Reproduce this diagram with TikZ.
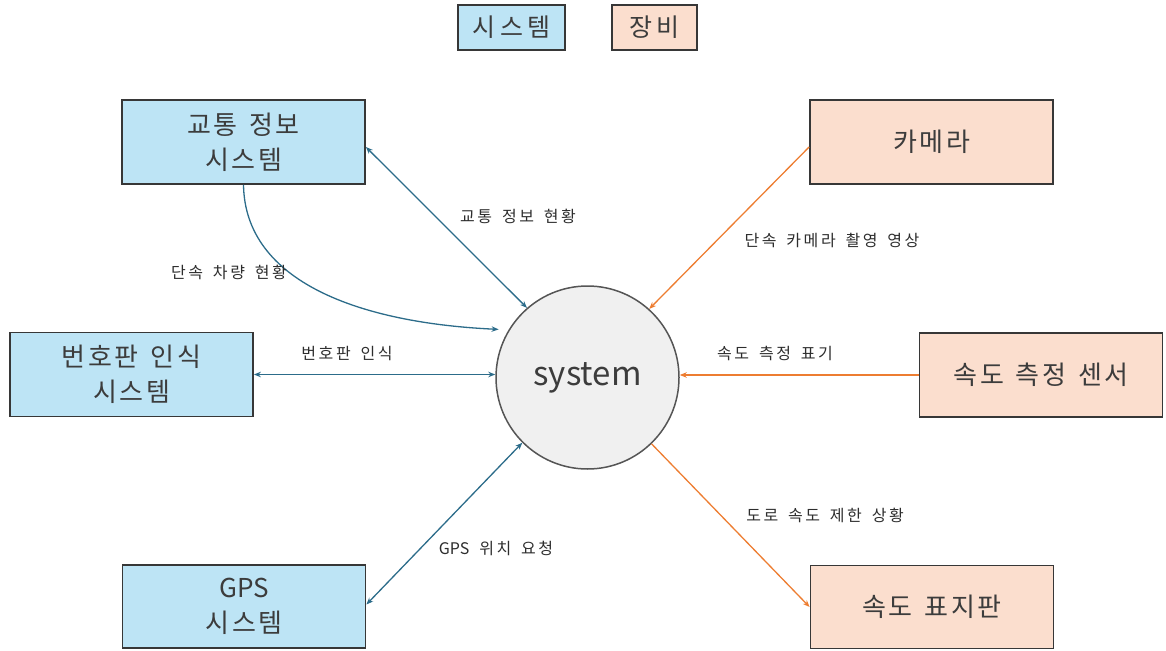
\documentclass[tikz,border=0pt]{standalone}
\usepackage{fontspec}
\setmainfont[LetterSpace=10, WordSpace=1.4]{Noto Sans CJK KR}
\newfontfamily\lblfont[LetterSpace=16, WordSpace=1.6]{Noto Sans CJK KR}
\newfontfamily\legfont[LetterSpace=18]{Noto Sans CJK KR}
\newfontfamily\plainfont{Noto Sans CJK KR}
\usetikzlibrary{arrows.meta}
\definecolor{sysfill}{RGB}{189,228,245}
\definecolor{eqfill}{RGB}{251,222,206}
\definecolor{boxline}{RGB}{55,55,55}
\definecolor{txt}{RGB}{60,60,60}
\definecolor{lbltxt}{RGB}{45,45,45}
\definecolor{teal}{RGB}{44,108,138}
\definecolor{orng}{RGB}{237,125,49}
\definecolor{cfill}{RGB}{240,240,240}
\definecolor{cline}{RGB}{85,85,85}
\tikzset{
  sysbox/.style={draw=boxline, line width=1.8pt, fill=sysfill, text=txt, align=center,
    minimum width=243pt, minimum height=84pt, inner sep=0pt,
    font=\fontsize{26}{35}\selectfont},
  eqbox/.style={sysbox, fill=eqfill},
  legbox/.style={draw=boxline, line width=1.8pt, text=txt, minimum height=45pt, inner sep=0pt,
    font=\legfont\fontsize{25}{28}\selectfont},
  flowlbl/.style={text=lbltxt, inner sep=0pt, font=\lblfont\fontsize{16}{18}\selectfont},
  tflow/.style={draw=teal, line width=1.3pt},
  oflow/.style={draw=orng, line width=1.3pt},
  tip/.style={-{Stealth[length=7pt,width=5.5pt]}},
  tips/.style={{Stealth[length=7pt,width=5.5pt]}-{Stealth[length=7pt,width=5.5pt]}},
}
\begin{document}
\begin{tikzpicture}[x=1pt,y=-1pt]
\useasboundingbox (0,0) rectangle (1166,650);
% legend
\node[legbox, fill=sysfill, minimum width=107pt] (legsys) at (511.5,27.5) {시스템};
\node[legbox, fill=eqfill, minimum width=85pt] (legeq) at (654.5,27.5) {장비};
% central process
\node[circle, draw=cline, line width=1.5pt, fill=cfill, minimum size=183pt, inner sep=0pt,
  text=txt, font=\plainfont\fontsize{33}{36}\selectfont] (sys) at (587.5,377.5) {system};
% systems
\node[sysbox] (tis) at (243.5,142) {교통 정보\\시스템};
\node[sysbox] (lpr) at (131.5,374.5) {번호판 인식\\시스템};
\node[sysbox, minimum height=83pt] (gps) at (244,606.5) {{\plainfont GPS}\\시스템};
% equipment
\node[eqbox] (cam) at (931.5,142) {카메라};
\node[eqbox] (sen) at (1041,375) {속도 측정 센서};
\node[eqbox, minimum height=83pt] (sign) at (932,607) {속도 표지판};
% connectors
\draw[tflow, tips] ([yshift=-5pt]tis.east) -- (sys.131);
\draw[tflow, tip] (tis.south) .. controls (245,282) and (360,323) .. ([xshift=-9pt,yshift=2pt]sys.150);
\draw[tflow, tips] (lpr.east) -- (sys.west |- lpr.east);
\draw[tflow, tips] ([yshift=2pt]gps.east) -- (sys.225);
\draw[oflow, tip] ([yshift=-5pt]cam.west) -- (sys.48);
\draw[oflow, tip] (sen.west) -- (sys.east |- sen.west);
\draw[oflow, tip] (sys.-46) -- (sign.west);
% labels
\node[flowlbl] (l1) at (518,216) {교통 정보 현황};
\node[flowlbl] (l2) at (229,272) {단속 차량 현황};
\node[flowlbl] (l3) at (347,354) {번호판 인식};
\node[flowlbl] (l4) at (496,548) {{\plainfont GPS}\ 위치 요청};
\node[flowlbl] (l5) at (832,240) {단속 카메라 촬영 영상};
\node[flowlbl] (l6) at (775,353) {속도 측정 표기};
\node[flowlbl] (l7) at (825,515) {도로 속도 제한 상황};
\end{tikzpicture}
\end{document}
